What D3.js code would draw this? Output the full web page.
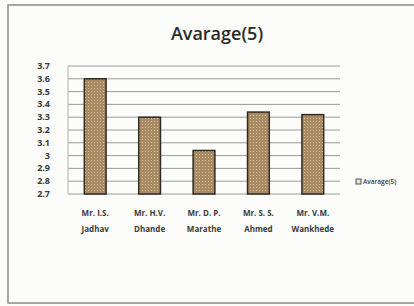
<!DOCTYPE html>
<html>
<head>
<meta charset="utf-8">
<script src="https://cdn.jsdelivr.net/npm/d3@7"></script>
<style>
  body { margin: 0; background: #fbfbf9; }
  svg { display: block; }
</style>
</head>
<body>
<svg id="chart" width="414" height="306"></svg>
<script>
// chart data
var names = ['Mr. I.S.|Jadhav', 'Mr. H.V.|Dhande', 'Mr. D. P.|Marathe', 'Mr. S. S.|Ahmed', 'Mr. V.M.|Wankhede']
var averages = [3.6, 3.3, 3.04, 3.34, 3.32]
var yTicks = [2.7, 2.8, 2.9, 3, 3.1, 3.2, 3.3, 3.4, 3.5, 3.6, 3.7]
var title = 'Avarage(5)'

var svg = d3.select('#chart')
var font = "'Liberation Sans Narrow', 'Open Sans', 'Noto Sans', sans-serif"

// outer frame
svg.append('rect').attr('x', 8).attr('y', 5).attr('width', 410).attr('height', 298)
  .attr('fill', '#fcfcfa').attr('stroke', '#8a8a88').attr('stroke-width', 1.5)

// bar texture
var defs = svg.append('defs')
var pat = defs.append('pattern').attr('id', 'dots').attr('width', 3).attr('height', 3)
  .attr('patternUnits', 'userSpaceOnUse')
pat.append('rect').attr('width', 3).attr('height', 3).attr('fill', '#a88b63')
pat.append('rect').attr('x', 1).attr('y', 1).attr('width', 1).attr('height', 1).attr('fill', '#d4c2a0')

var plotLeft = 68, plotRight = 340, plotTop = 66, plotBottom = 194

var x = d3.scaleBand().domain(names).range([plotLeft, plotRight]).paddingInner(0.6).paddingOuter(0.3)
var y = d3.scaleLinear().domain([2.7, 3.7]).range([plotBottom, plotTop])

// gridlines
svg.append('g').selectAll('line').data(yTicks).join('line')
  .attr('x1', plotLeft).attr('x2', plotRight)
  .attr('y1', function(d) { return y(d) }).attr('y2', function(d) { return y(d) })
  .attr('stroke', '#9a9a98').attr('stroke-width', 1)

// y axis line
svg.append('line').attr('x1', plotLeft).attr('x2', plotLeft).attr('y1', plotTop).attr('y2', plotBottom)
  .attr('stroke', '#b0b0ae')

// y tick labels
svg.append('g').selectAll('text').data(yTicks).join('text')
  .attr('x', 50).attr('y', function(d) { return y(d) + 3 })
  .attr('text-anchor', 'end')
  .style('font-family', font).style('font-size', '9px').style('font-weight', 'bold')
  .attr('fill', '#3a3a3a')
  .text(function(d) { return d })

// bars
svg.append('g').selectAll('rect').data(averages).join('rect')
  .attr('x', function(d, i) { return x(names[i]) })
  .attr('width', x.bandwidth())
  .attr('y', function(d) { return y(d) })
  .attr('height', function(d) { return plotBottom - y(d) })
  .attr('fill', 'url(#dots)')
  .attr('stroke', '#2e2a24').attr('stroke-width', 1.5)

// category labels
var cat = svg.append('g').selectAll('text').data(names).join('text')
  .attr('text-anchor', 'middle')
  .style('font-family', font).style('font-size', '8px').style('font-weight', 'bold')
  .attr('fill', '#3a3a3a')
cat.each(function(d) {
  var parts = d.split('|')
  var cx = x(d) + x.bandwidth() / 2
  var t = d3.select(this)
  t.append('tspan').attr('x', cx).attr('y', 216).text(parts[0])
  t.append('tspan').attr('x', cx).attr('y', 232).text(parts[1])
})

// title
svg.append('text').attr('x', 217).attr('y', 40).attr('text-anchor', 'middle')
  .style('font-family', font).style('font-size', '18px').style('font-weight', 600)
  .attr('fill', '#2a2a2a').text(title)

// legend
svg.append('rect').attr('x', 356).attr('y', 179).attr('width', 5).attr('height', 5)
  .attr('fill', '#e8e2d6').attr('stroke', '#555')
svg.append('text').attr('x', 363).attr('y', 184)
  .style('font-family', font).style('font-size', '6.5px').style('font-weight', 600)
  .attr('fill', '#3a3a3a').text(title)
</script>
</body>
</html>
